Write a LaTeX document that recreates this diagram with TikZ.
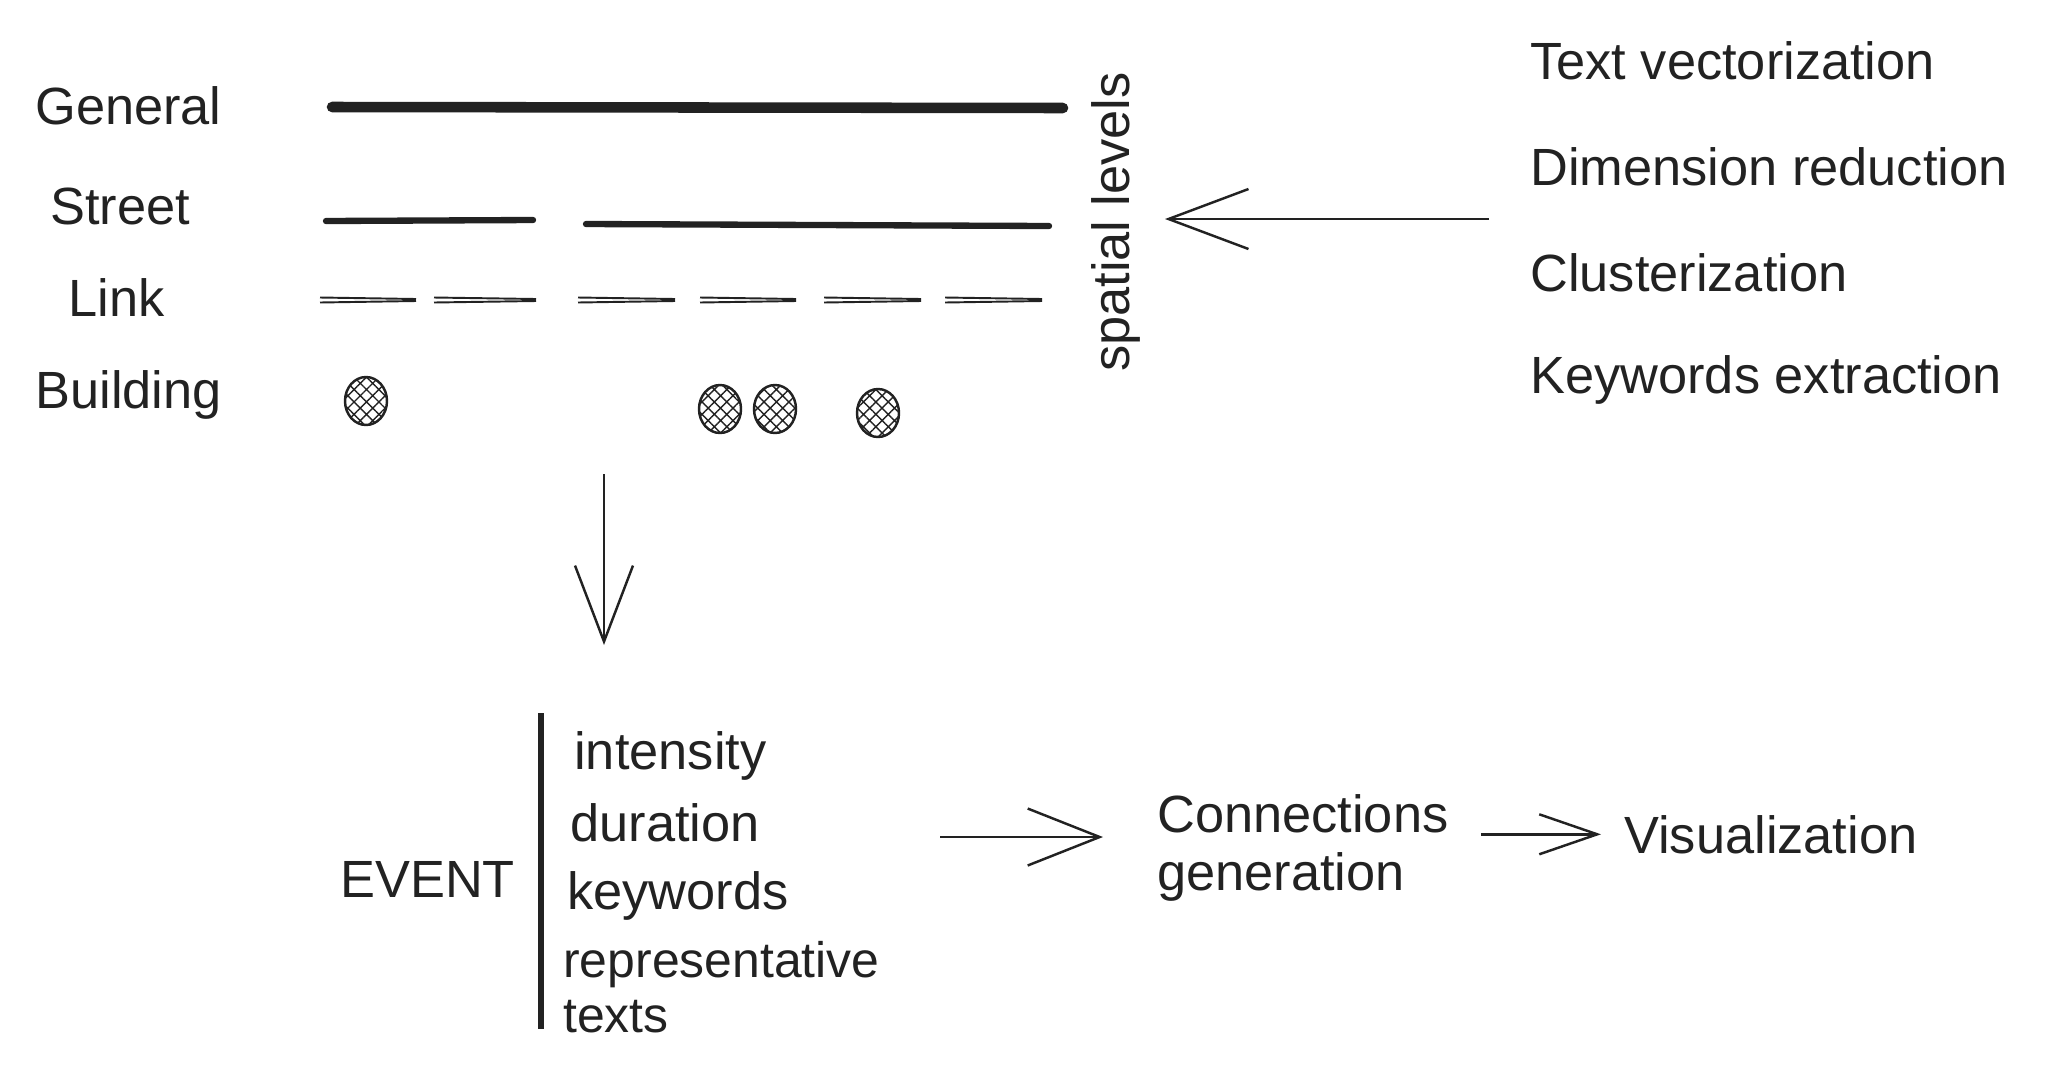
\documentclass[tikz,border=0pt]{standalone}
\usepackage{fontspec}
\setmainfont{Liberation Sans}
\usetikzlibrary{arrows.meta,patterns.meta,positioning}
\definecolor{ink}{HTML}{222222}
\begin{document}
\begin{tikzpicture}[x=0.02cm,y=-0.02cm,
  lbl/.style={inner sep=0,anchor=base west,text=ink,font=\fontsize{29.8}{33.5}\selectfont},
  barb/.style={draw=ink,line width=1.4pt},
  dot/.style={draw=ink,line width=1.4pt,pattern={Hatch[angle=45,distance=5pt,line width=0.8pt]},pattern color=ink}]
\useasboundingbox (0,0) rectangle (2064,1079);
\foreach \n/\t/\x/\y in {gen/General/35/124, str/Street/50/224, lnk/Link/68/316, bld/Building/35/408}
  \node[lbl] (\n) at (\x,\y) {\t};
\draw[ink,line width=6pt,line cap=round] (332,107) -- (1063,108);
\draw[ink,line width=3.6pt,line cap=round] (326,221) -- (533,220);
\draw[ink,line width=3.6pt,line cap=round] (586,224) -- (1049,226);
\foreach \a/\b in {320/416, 434/536, 578/675, 700/796, 824/921, 945/1042}
  {\draw[ink,line width=1.1pt] (\a,297.5) -- (\b,299);
   \draw[ink,line width=1.1pt] (\a,302.5) -- (\b,301);};
\foreach \i/\x/\y in {0/366/401, 1/720/409, 2/775/409, 3/878/413}
  \draw[dot] (\x,\y) ellipse [x radius=21, y radius=24];
\node[lbl,anchor=center,rotate=90] (levels) at (1116,222) {spatial levels};
\foreach \i/\t/\y in {0/Text vectorization/79, 1/Dimension reduction/185, 2/Clusterization/291, 3/Keywords extraction/393}
  \node[lbl] (s\i) at (1530,\y) {\t};
\coordinate (pipe) at (1489,219);
\draw[barb,-{Straight Barb[length=1.6cm,width=1.2cm,line width=1.4pt]},shorten >=0.98cm] (pipe) -- (pipe -| levels.east);
\coordinate (dtop) at (604,474);
\coordinate (dbot) at (604,645);
\draw[barb,-{Straight Barb[length=1.52cm,width=1.16cm,line width=1.4pt]}] (dtop) -- (dbot);
\node[lbl] (event) at (340,897) {EVENT};
\draw[ink,line width=3.4pt] (541,713) -- (541,1029);
\foreach \i/\t/\x/\y in {0/intensity/574/769, 1/duration/570/841, 2/keywords/567/909}
  \node[lbl] (f\i) at (\x,\y) {\t};
\node[lbl,anchor=west,align=left,font=\fontsize{28.4}{31.6}\selectfont] (f3) at (563,987) {representative\\texts};
\node[lbl,anchor=west,align=left] (conn) at (1157,848) {Connections\\generation};
\node[lbl] (vis) at (1624,853) {Visualization};
\coordinate (evout) at (940,837);
\draw[barb,-{Straight Barb[length=1.44cm,width=1.14cm,line width=1.4pt]},shorten >=1.08cm] (evout) -- (evout -| conn.west);
\draw[barb,-{Straight Barb[length=1.16cm,width=0.8cm,line width=1.4pt]},shorten <=0.64cm,shorten >=0.46cm] (conn.east |- vis.west) -- (vis.west);
\end{tikzpicture}
\end{document}
